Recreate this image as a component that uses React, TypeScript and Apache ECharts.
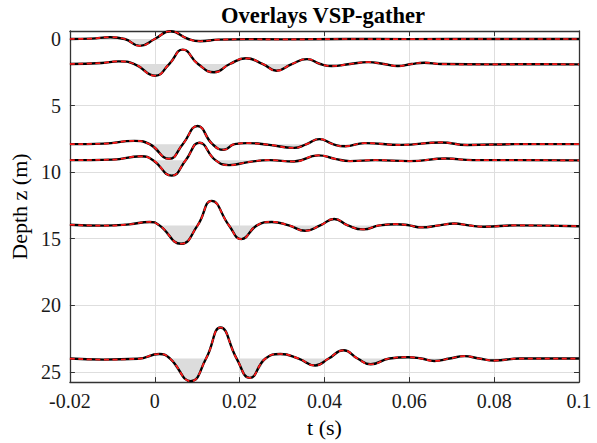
import React, { useEffect, useRef } from "react";
import * as echarts from "echarts";

// Depth (m) of each trace's zero line
const traceDepths = [0, 1.88, 7.9, 9.1, 14, 24];

// Key points: time (s) and deflection (m) relative to the trace's zero line
const t0 = [-0.02, -0.015, -0.0105, -0.0071, -0.0035, 0.0, 0.0037, 0.0079, 0.0107, 0.015, 0.022, 0.03, 0.045, 0.06, 0.08, 0.1];
const a0 = [0, -0.03, -0.13, 0, 0.52, 0, -0.58, 0, 0.17, 0.05, 0.02, 0.03, 0, 0.01, 0, 0];

const t2 = [-0.02, -0.0125, -0.0085, -0.0048, 0.0001, 0.0034, 0.0066, 0.0102, 0.014, 0.0177, 0.0215, 0.0255, 0.0287, 0.0323, 0.0359, 0.039, 0.0417, 0.046, 0.0503, 0.054, 0.0573, 0.0605, 0.0635, 0.0675, 0.08, 0.09, 0.1];
const a2 = [0, -0.08, -0.2, 0, 0.88, 0, -1.08, 0, 0.62, 0, -0.43, 0, 0.5, 0, -0.37, 0, 0.15, 0, -0.14, 0, 0.15, 0, -0.1, 0, 0.03, 0.01, 0.03];

const t8 = [-0.02, -0.012, -0.0048, -0.0012, 0.0034, 0.0066, 0.0101, 0.0136, 0.0163, 0.0188, 0.0218, 0.027, 0.0328, 0.0358, 0.0388, 0.042, 0.0448, 0.0495, 0.058, 0.0675, 0.0737, 0.085, 0.1];
const a8 = [0, -0.04, -0.25, 0, 1.1, 0, -1.36, 0, 0.42, 0, -0.08, 0.05, 0.28, 0, -0.38, 0, 0.16, -0.08, 0.05, -0.13, 0.06, 0, 0];

const t9 = [-0.02, -0.01, -0.0032, -0.0004, 0.004, 0.0073, 0.0105, 0.0143, 0.0175, 0.022, 0.027, 0.0328, 0.0386, 0.0425, 0.046, 0.052, 0.06, 0.0687, 0.075, 0.085, 0.1];
const a9 = [0, -0.04, -0.29, 0, 1.16, 0, -1.31, 0, 0.37, 0.15, 0, 0.1, -0.36, -0.1, 0.07, 0, 0.07, -0.12, 0, 0, 0.02];

const t14 = [-0.02, -0.012, -0.006, -0.0012, 0.0011, 0.0062, 0.0101, 0.0134, 0.0175, 0.0204, 0.0241, 0.0276, 0.0316, 0.0355, 0.039, 0.0423, 0.0455, 0.0491, 0.053, 0.057, 0.06, 0.0628, 0.067, 0.0706, 0.074, 0.0777, 0.085, 0.1];
const a14 = [-0.05, 0.02, -0.08, -0.26, 0, 1.38, 0, -1.84, 0, 1.03, 0, -0.26, 0, 0.4, 0, -0.48, 0, 0.3, 0, -0.09, 0, 0.15, 0, -0.14, 0, 0.1, 0, 0.06];

const t24 = [-0.02, -0.012, -0.004, 0.0011, 0.0036, 0.0085, 0.0121, 0.0155, 0.0193, 0.0224, 0.0261, 0.0296, 0.0339, 0.0378, 0.041, 0.0445, 0.0478, 0.0509, 0.0553, 0.0597, 0.0628, 0.0659, 0.0695, 0.073, 0.0765, 0.08, 0.086, 0.1];
const a24 = [0, 0.08, 0.02, -0.34, 0, 1.7, 0, -2.33, 0, 1.45, 0, -0.34, 0, 0.52, 0, -0.62, 0, 0.43, 0, -0.1, 0, 0.18, 0, -0.18, 0, 0.15, 0, 0.0];

const traceTimes = [t0, t2, t8, t9, t14, t24];
const traceAmps = [a0, a2, a8, a9, a14, a24];

const FONT = "Liberation Serif";
const AXIS_COLOR = "#333333";

export default function App() {
  const ref = useRef<HTMLDivElement>(null);

  useEffect(() => {
    if (!ref.current) return;
    const chart = echarts.init(ref.current, null, { renderer: "svg" });

    const series: any[] = [];
    traceTimes.forEach((times, i) => {
      const base = traceDepths[i];
      const amps = traceAmps[i];
      const line = times.map((t, k) => [t, base + amps[k]]);
      // shaded lobes: keep points of positive deflection plus their bounding zero points
      const fill = times.map((t, k) => {
        const a = amps[k];
        const prev = k > 0 ? amps[k - 1] : -1;
        const next = k < amps.length - 1 ? amps[k + 1] : -1;
        const keep = a > 0 || (a === 0 && (prev > 0 || next > 0));
        return keep ? [t, base + a] : [t, null];
      });
      series.push({
        type: "line",
        data: fill,
        smooth: 0.5,
        symbol: "none",
        silent: true,
        connectNulls: false,
        lineStyle: { opacity: 0 },
        areaStyle: { color: "#dcdcdc", opacity: 1, origin: base },
        z: 2,
      });
      series.push({
        type: "line",
        data: line,
        smooth: 0.5,
        symbol: "none",
        silent: true,
        lineStyle: { color: "#000000", width: 2.4 },
        z: 3,
      });
      series.push({
        type: "line",
        data: line,
        smooth: 0.5,
        symbol: "none",
        silent: true,
        lineStyle: { color: "#ff1a1a", width: 1.7, type: [5, 3.5] },
        z: 4,
      });
    });

    const yMin = -0.6;
    const yMax = 25.77;

    const xCommon = {
      type: "value",
      min: -0.02,
      max: 0.1,
      interval: 0.02,
    };
    const yCommon = {
      type: "value",
      inverse: true,
      min: yMin,
      max: yMax,
      splitNumber: 5,
    };
    const lineOpt = { show: true, onZero: false, lineStyle: { color: AXIS_COLOR, width: 1.3 } };
    const tickOpt = { show: true, inside: true, length: 5, lineStyle: { color: AXIS_COLOR } };

    chart.setOption({
      animation: false,
      backgroundColor: "#ffffff",
      title: {
        text: "Overlays VSP-gather",
        left: 323,
        textAlign: "center",
        top: 4,
        padding: 0,
        textStyle: { fontFamily: FONT, fontWeight: "bold", fontSize: 22.5, color: "#000" },
      },
      grid: { left: 67, top: 31, width: 512, height: 360, containLabel: false },
      xAxis: [
        {
          ...xCommon,
          position: "bottom",
          name: "t (s)",
          nameLocation: "middle",
          nameGap: 30,
          nameTextStyle: { fontFamily: FONT, fontSize: 22, color: "#000" },
          axisLine: lineOpt,
          axisTick: tickOpt,
          axisLabel: { fontFamily: FONT, fontSize: 20, color: "#1a1a1a", margin: 9 },
          splitLine: { show: true, lineStyle: { color: "#dedede", width: 1 } },
        },
        {
          ...xCommon,
          position: "top",
          axisLine: lineOpt,
          axisTick: tickOpt,
          axisLabel: { show: false },
          splitLine: { show: false },
        },
      ],
      yAxis: [
        {
          ...yCommon,
          position: "left",
          name: "Depth z (m)",
          nameLocation: "middle",
          nameGap: 30,
          nameTextStyle: { fontFamily: FONT, fontSize: 22, color: "#000" },
          axisLine: lineOpt,
          axisTick: tickOpt,
          axisLabel: {
            fontFamily: FONT,
            fontSize: 20,
            color: "#1a1a1a",
            margin: 9,
            showMinLabel: false,
            showMaxLabel: false,
          },
          splitLine: { show: true, lineStyle: { color: "#dedede", width: 1 } },
        },
        {
          ...yCommon,
          position: "right",
          axisLine: lineOpt,
          axisTick: tickOpt,
          axisLabel: { show: false },
          splitLine: { show: false },
        },
      ],
      series,
    });

    return () => chart.dispose();
  }, []);

  return (
    <div
      ref={ref}
      style={{ position: "fixed", left: 0, top: 0, width: 597, height: 443, background: "#fff" }}
    />
  );
}
